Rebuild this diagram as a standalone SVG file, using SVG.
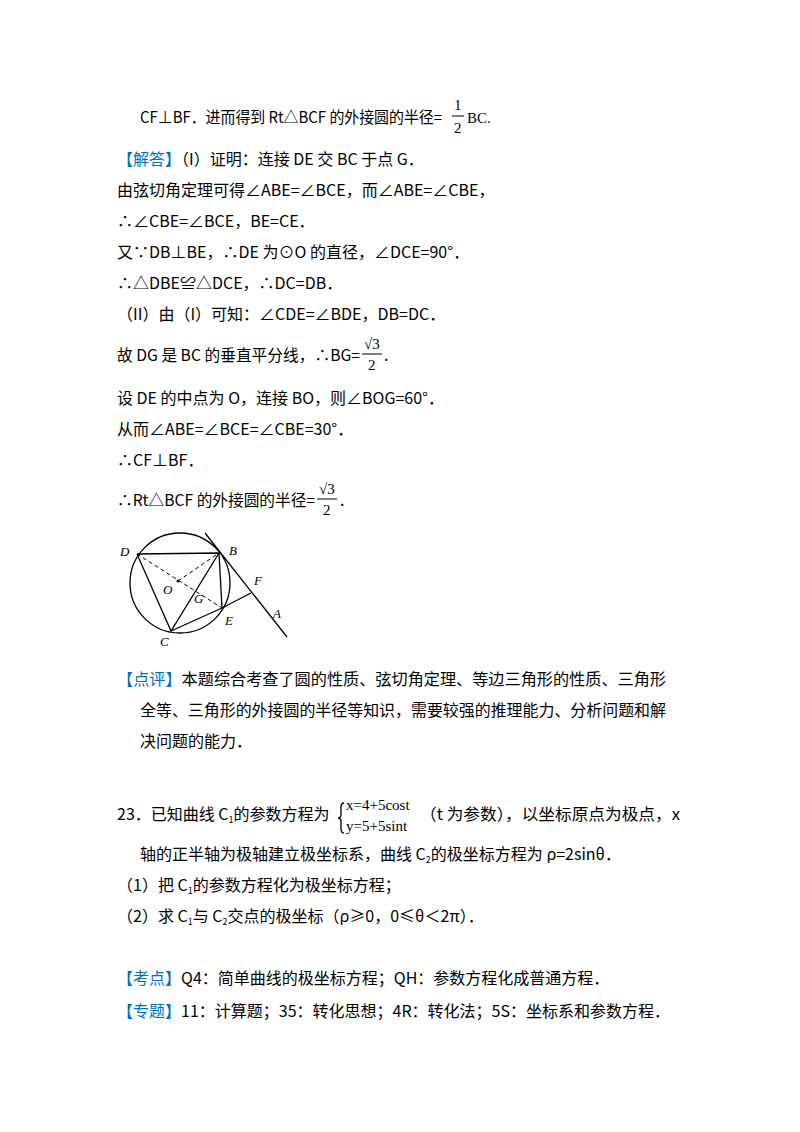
<svg xmlns="http://www.w3.org/2000/svg" width="800" height="1132" viewBox="0 0 800 1132">
<style>
text{font-family:"Noto Sans CJK SC","Noto Sans",sans-serif;font-size:16px;fill:#000}
.b{fill:#0070c0}
.s{font-family:"Liberation Serif",serif;font-size:15px}
.l{font-family:"Liberation Serif",serif;font-style:italic;font-size:13px}
.ln{stroke:#000;stroke-width:1.3;fill:none}
.d{stroke:#000;stroke-width:1;fill:none;stroke-dasharray:4,3}
.f{stroke:#000;stroke-width:1}
</style>
<rect width="800" height="1132" fill="#fff"/>
<text x="140" y="123" textLength="302" lengthAdjust="spacingAndGlyphs">CF⊥BF．进而得到 Rt△BCF 的外接圆的半径=</text>
<text class="s" x="454" y="110" font-size="13">1</text>
<line class="f" x1="452" y1="116" x2="464" y2="116"/>
<text class="s" x="454" y="133" font-size="13">2</text>
<text class="s" x="467" y="123">BC.</text>
<text x="117" y="165"><tspan class="b">【解答】</tspan>（I）证明：连接 DE 交 BC 于点 G．</text>
<text x="117" y="196">由弦切角定理可得∠ABE=∠BCE，而∠ABE=∠CBE，</text>
<text x="117" y="227">∴∠CBE=∠BCE，BE=CE．</text>
<text x="117" y="258">又∵DB⊥BE，∴DE 为⊙O 的直径，∠DCE=90°．</text>
<text x="117" y="289">∴△DBE≌△DCE，∴DC=DB．</text>
<text x="117" y="320">（II）由（I）可知：∠CDE=∠BDE，DB=DC．</text>
<text x="117" y="361" textLength="243" lengthAdjust="spacingAndGlyphs">故 DG 是 BC 的垂直平分线，∴BG=</text>
<text class="s" x="364" y="349" font-size="14">√3</text>
<line class="f" x1="362" y1="354" x2="382" y2="354"/>
<text class="s" x="368" y="370" font-size="14">2</text>
<text x="384" y="361">.</text>
<text x="117" y="404">设 DE 的中点为 O，连接 BO，则∠BOG=60°．</text>
<text x="117" y="435">从而∠ABE=∠BCE=∠CBE=30°．</text>
<text x="117" y="466">∴CF⊥BF．</text>
<text x="117" y="506" textLength="198" lengthAdjust="spacingAndGlyphs">∴Rt△BCF 的外接圆的半径=</text>
<text class="s" x="319" y="494" font-size="14">√3</text>
<line class="f" x1="317" y1="499" x2="337" y2="499"/>
<text class="s" x="323" y="515" font-size="14">2</text>
<text x="340" y="506">.</text>
<g id="figure">
<circle class="ln" cx="180" cy="583" r="50"/>
<line class="ln" x1="205" y1="533" x2="287" y2="637"/>
<polyline class="ln" points="137,554 219,553 171,631 137,554"/>
<line class="ln" x1="219" y1="553" x2="222" y2="608"/>
<polyline class="ln" points="171,631 222,608 251,593"/>
<line class="d" x1="137" y1="554" x2="222" y2="608"/>
<line class="d" x1="178" y1="581" x2="219" y2="553"/>
<circle cx="178" cy="581" r="1.5"/>
<text class="l" x="120" y="556">D</text>
<text class="l" x="229" y="555">B</text>
<text class="l" x="163" y="594">O</text>
<text class="l" x="194" y="603">G</text>
<text class="l" x="254" y="585">F</text>
<text class="l" x="273" y="618">A</text>
<text class="l" x="225" y="625">E</text>
<text class="l" x="160" y="646">C</text>
</g>
<text x="117" y="685" textLength="549" lengthAdjust="spacingAndGlyphs"><tspan class="b">【点评】</tspan>本题综合考查了圆的性质、弦切角定理、等边三角形的性质、三角形</text>
<text x="140" y="716" textLength="526" lengthAdjust="spacingAndGlyphs">全等、三角形的外接圆的半径等知识，需要较强的推理能力、分析问题和解</text>
<text x="140" y="747">决问题的能力．</text>
<text x="117" y="820">23．已知曲线 C<tspan font-size="9" dy="3">1</tspan><tspan dy="-3">的参数方程为</tspan></text>
<path class="ln" d="M344,803 q-3,0 -3,4 v7 q0,4 -3,4 q3,0 3,4 v7 q0,4 3,4" stroke-width="1"/>
<text class="s" x="346" y="810" font-size="13">x=4+5cost</text>
<text class="s" x="346" y="831" font-size="13">y=5+5sint</text>
<text x="420" y="820" textLength="260" lengthAdjust="spacingAndGlyphs">（t 为参数），以坐标原点为极点，x</text>
<text x="140" y="860">轴的正半轴为极轴建立极坐标系，曲线 C<tspan font-size="9" dy="3">2</tspan><tspan dy="-3">的极坐标方程为 ρ=2sinθ．</tspan></text>
<text x="117" y="891">（1）把 C<tspan font-size="9" dy="3">1</tspan><tspan dy="-3">的参数方程化为极坐标方程；</tspan></text>
<text x="117" y="922">（2）求 C<tspan font-size="9" dy="3">1</tspan><tspan dy="-3">与 C</tspan><tspan font-size="9" dy="3">2</tspan><tspan dy="-3">交点的极坐标（ρ≥0，0≤θ＜2π）．</tspan></text>
<text x="117" y="984"><tspan class="b">【考点】</tspan>Q4：简单曲线的极坐标方程；QH：参数方程化成普通方程．</text>
<text x="117" y="1017"><tspan class="b">【专题】</tspan>11：计算题；35：转化思想；4R：转化法；5S：坐标系和参数方程．</text>
</svg>
